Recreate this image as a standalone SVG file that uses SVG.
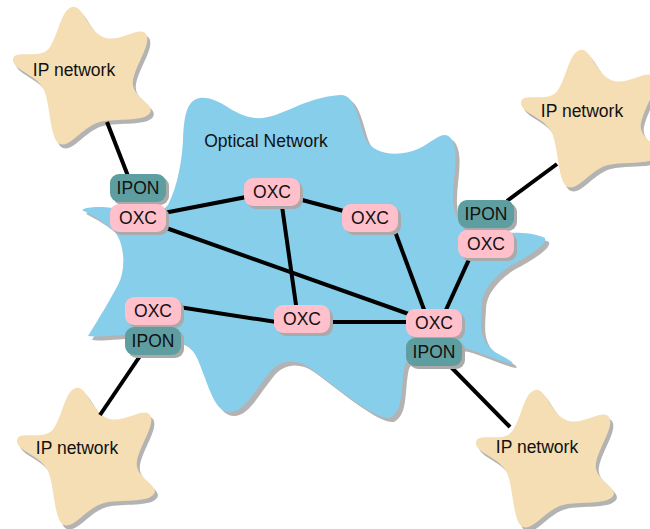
<svg xmlns="http://www.w3.org/2000/svg" width="650" height="529" viewBox="0 0 650 529">
  <defs>
    <style>
      .bg { fill: #ffffff; }
      .cloud { fill: #87ceeb; }
      .cloud-shadow { fill: #b3b3b3; }
      .star { fill: #f5deb3; }
      .star-shadow { fill: #b3b3b3; }
      .box-shadow { fill: #aaaaaa; }
      .oxc { fill: #ffc0cb; }
      .ipon { fill: #5f9ea0; }
      .link { stroke: #000000; stroke-width: 4; fill: none; stroke-linecap: butt; }
      .label { font-family: "Liberation Sans", Arial, sans-serif; font-size: 17.5px; fill: #111111; text-anchor: middle; }
    </style>
    <path id="cloud-shape" d="M 168,205 C 178,185 182,160 183,140 C 184,118 186,100 200,98 C 220,96 232,116 255,118 C 280,120 300,98 340,95 C 355,94 358,118 365,138 C 372,155 400,158 420,148 C 435,140 445,128 452,140 C 460,155 452,180 453,200 C 454,215 460,228 470,232 C 495,236 525,228 545,238 C 548,245 525,258 510,266 C 495,276 482,290 482,305 C 481,325 478,340 495,352 C 505,358 515,362 512,364 C 500,362 480,352 465,348 C 450,345 410,352 405,365 C 400,385 405,410 390,418 C 375,420 340,390 310,368 C 295,358 280,360 270,372 C 255,390 245,412 230,412 C 215,412 210,390 200,365 C 195,350 185,338 160,335 C 130,332 100,338 88,336 C 98,320 110,300 118,285 C 126,270 125,245 115,232 C 105,222 92,215 82,210 C 90,204 120,208 140,212 C 155,214 162,212 168,205 Z"/>
    <!-- five-pointed blob star, top tip at the origin -->
    <path id="star" d="M 0,0 C 10.67,-2.66 15.46,23.15 31,30 C 46.54,36.85 68.08,17.73 74,27 C 79.92,36.27 64.33,56.34 61,73 C 57.67,89.66 84.17,96.89 78,106 C 71.83,115.11 44.54,111.11 28,115 C 11.46,118.89 -1.73,140.94 -12,137 C -22.27,133.06 -21.25,98.61 -28,83 C -34.75,67.39 -60.74,62.86 -59,52 C -57.26,41.14 -31.08,54.38 -22,40 C -12.92,25.62 -10.67,2.66 0,0 Z"/>
  </defs>

  <rect class="bg" x="0" y="0" width="650" height="529"/>

  <!-- optical core cloud -->
  <g id="optical-network">
    <use href="#cloud-shape" class="cloud-shadow" transform="translate(4,4)"/>
    <use href="#cloud-shape" class="cloud"/>
    <text class="label" x="266" y="147">Optical Network</text>
  </g>

  <!-- client IP networks -->
  <g id="ip-network-tl">
    <use href="#star" class="star-shadow" transform="translate(75,11)"/>
    <use href="#star" class="star" transform="translate(72,7)"/>
    <text class="label" x="74" y="76">IP network</text>
  </g>
  <g id="ip-network-tr">
    <use href="#star" class="star-shadow" transform="translate(583,54)"/>
    <use href="#star" class="star" transform="translate(580,50)"/>
    <text class="label" x="582" y="117">IP network</text>
  </g>
  <g id="ip-network-bl">
    <use href="#star" class="star-shadow" transform="translate(79,392)"/>
    <use href="#star" class="star" transform="translate(76,388)"/>
    <text class="label" x="77" y="454">IP network</text>
  </g>
  <g id="ip-network-br">
    <use href="#star" class="star-shadow" transform="translate(538,394)"/>
    <use href="#star" class="star" transform="translate(535,390)"/>
    <text class="label" x="537" y="453">IP network</text>
  </g>

  <!-- links -->
  <g id="connectors">
    <line class="link" x1="107" y1="122" x2="128" y2="176"/>
    <line class="link" x1="138" y1="218" x2="272" y2="192"/>
    <line class="link" x1="138" y1="218" x2="434" y2="323"/>
    <line class="link" x1="272" y1="192" x2="370" y2="218"/>
    <line class="link" x1="280" y1="192" x2="298" y2="319"/>
    <line class="link" x1="390" y1="218" x2="429" y2="323"/>
    <line class="link" x1="476" y1="244" x2="440" y2="323"/>
    <line class="link" x1="153" y1="303" x2="302" y2="326"/>
    <line class="link" x1="302" y1="322" x2="434" y2="322"/>
    <line class="link" x1="507" y1="201" x2="557" y2="164"/>
    <line class="link" x1="140" y1="356" x2="100" y2="415"/>
    <line class="link" x1="450" y1="366" x2="510" y2="427"/>
  </g>

  <!-- switching nodes -->
  <g id="ipon-ul">
    <rect class="box-shadow" x="113" y="177" width="56" height="28" rx="9"/>
    <rect class="ipon" x="110" y="174" width="56" height="28" rx="9"/>
    <text class="label" x="138" y="194">IPON</text>
  </g>
  <g id="oxc-ul">
    <rect class="box-shadow" x="113" y="207" width="56" height="28" rx="9"/>
    <rect class="oxc" x="110" y="204" width="56" height="28" rx="9"/>
    <text class="label" x="138" y="224">OXC</text>
  </g>
  <g id="oxc-um">
    <rect class="box-shadow" x="247" y="181" width="56" height="28" rx="9"/>
    <rect class="oxc" x="244" y="178" width="56" height="28" rx="9"/>
    <text class="label" x="272" y="198">OXC</text>
  </g>
  <g id="oxc-ur">
    <rect class="box-shadow" x="345" y="207" width="56" height="28" rx="9"/>
    <rect class="oxc" x="342" y="204" width="56" height="28" rx="9"/>
    <text class="label" x="370" y="224">OXC</text>
  </g>
  <g id="ipon-r">
    <rect class="box-shadow" x="461" y="203" width="56" height="28" rx="9"/>
    <rect class="ipon" x="458" y="200" width="56" height="28" rx="9"/>
    <text class="label" x="486" y="220">IPON</text>
  </g>
  <g id="oxc-r">
    <rect class="box-shadow" x="461" y="233" width="56" height="28" rx="9"/>
    <rect class="oxc" x="458" y="230" width="56" height="28" rx="9"/>
    <text class="label" x="486" y="250">OXC</text>
  </g>
  <g id="oxc-ll">
    <rect class="box-shadow" x="128" y="300" width="56" height="28" rx="9"/>
    <rect class="oxc" x="125" y="297" width="56" height="28" rx="9"/>
    <text class="label" x="153" y="317">OXC</text>
  </g>
  <g id="ipon-ll">
    <rect class="box-shadow" x="128" y="330" width="56" height="28" rx="9"/>
    <rect class="ipon" x="125" y="327" width="56" height="28" rx="9"/>
    <text class="label" x="153" y="347">IPON</text>
  </g>
  <g id="oxc-mid">
    <rect class="box-shadow" x="277" y="308" width="56" height="28" rx="9"/>
    <rect class="oxc" x="274" y="305" width="56" height="28" rx="9"/>
    <text class="label" x="302" y="325">OXC</text>
  </g>
  <g id="oxc-lr">
    <rect class="box-shadow" x="409" y="312" width="56" height="28" rx="9"/>
    <rect class="oxc" x="406" y="309" width="56" height="28" rx="9"/>
    <text class="label" x="434" y="329">OXC</text>
  </g>
  <g id="ipon-lr">
    <rect class="box-shadow" x="409" y="341" width="56" height="28" rx="9"/>
    <rect class="ipon" x="406" y="338" width="56" height="28" rx="9"/>
    <text class="label" x="434" y="358">IPON</text>
  </g>
</svg>
